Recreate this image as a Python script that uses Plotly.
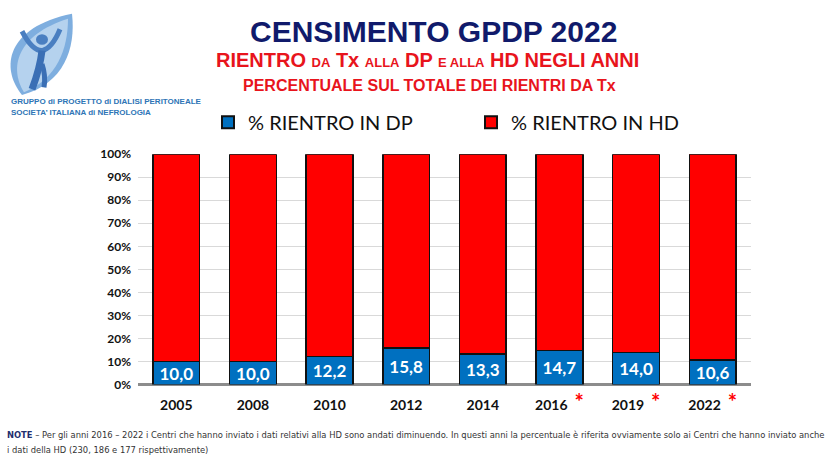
import plotly.graph_objects as go

W, H = 832, 468

years = ["2005", "2008", "2010", "2012", "2014", "2016", "2019", "2022"]
starred = [False, False, False, False, False, True, True, True]
dp_pct = [10.0, 10.0, 12.2, 15.8, 13.3, 14.7, 14.0, 10.6]
hd_pct = [90.0, 90.0, 87.8, 84.2, 86.7, 85.3, 86.0, 89.4]
y_ticks = [0, 10, 20, 30, 40, 50, 60, 70, 80, 90, 100]

tick_text = [y + ("  <span style='color:#ff0000;font-size:22px'>*</span>" if s else "") for y, s in zip(years, starred)]
y_tick_text = [f"{v}%" for v in y_ticks]


def px(x):
    return x / W


def py(y):
    return 1 - y / H


fig = go.Figure()
fig.add_trace(go.Bar(
    x=years, y=dp_pct, name="% RIENTRO IN DP",
    marker=dict(color="#0070c0", line=dict(color="#111111", width=1.5)),
    texttemplate="%{y:.1f}", textposition="inside", insidetextanchor="middle",
    constraintext="none",
    textfont=dict(family="Lato, Open Sans, sans-serif", size=17, color="white", weight="bold"),
))
fig.add_trace(go.Bar(
    x=years, y=hd_pct, name="% RIENTRO IN HD",
    marker=dict(color="#ff0000", line=dict(color="#111111", width=1.5)),
    hoverinfo="y",
))

fig.update_layout(
    width=W, height=H, barmode="stack", bargap=0.39,
    separators=",.",
    paper_bgcolor="white", plot_bgcolor="white",
    margin=dict(l=0, r=0, t=0, b=0),
    font=dict(family="Lato, Open Sans, sans-serif", color="#111111"),
    xaxis=dict(domain=[px(138), px(751)], tickmode="array", tickvals=years, ticktext=tick_text,
               tickfont=dict(size=14, weight="bold"), showline=False, ticks="", ticklabelstandoff=10),
    yaxis=dict(domain=[py(389), py(151)], range=[0, 100], tickmode="array", tickvals=y_ticks,
               ticktext=y_tick_text,
               tickfont=dict(size=12, weight="bold"), showgrid=True, gridcolor="#d9d9d9",
               gridwidth=1, zeroline=True, zerolinecolor="#8c8c8c", zerolinewidth=2.5,
               ticklabelstandoff=6),
    legend=dict(orientation="h", x=px(208), y=py(98), xanchor="left", yanchor="top",
                font=dict(size=20, family="Lato, Open Sans, sans-serif"),
                entrywidth=218, entrywidthmode="pixels", itemsizing="constant",
                traceorder="normal", bgcolor="rgba(0,0,0,0)"),
    showlegend=True,
)

# Titles
fig.add_annotation(x=px(433), y=py(24), xref="paper", yref="paper", showarrow=False,
                   xanchor="center", yanchor="middle",
                   text="<b>CENSIMENTO GPDP 2022</b>",
                   font=dict(family="Liberation Sans, Arial, sans-serif", size=30, color="#101a6b"))
sm = "<span style='font-size:13px'>"
fig.add_annotation(x=px(428), y=py(54), xref="paper", yref="paper", showarrow=False,
                   xanchor="center", yanchor="middle",
                   text=f"<b>RIENTRO {sm}DA</span> Tx {sm}ALLA</span> DP {sm}E ALLA</span> HD NEGLI ANNI</b>",
                   font=dict(family="Liberation Sans, Arial, sans-serif", size=20, color="#e8141c"))
fig.add_annotation(x=px(429), y=py(80), xref="paper", yref="paper", showarrow=False,
                   xanchor="center", yanchor="middle",
                   text="<b>PERCENTUALE SUL TOTALE DEI RIENTRI DA Tx</b>",
                   font=dict(family="Liberation Sans, Arial, sans-serif", size=16, color="#e8141c"))

# Logo caption
fig.add_annotation(x=px(9), y=py(97), xref="paper", yref="paper", showarrow=False, xanchor="left",
                   yanchor="middle",
                   text="<b>GRUPPO di PROGETTO di DIALISI PERITONEALE</b>",
                   font=dict(family="Liberation Sans Narrow, Liberation Sans, sans-serif", size=8, color="#2e75b6"))
fig.add_annotation(x=px(9), y=py(108), xref="paper", yref="paper", showarrow=False, xanchor="left",
                   yanchor="middle",
                   text="<b>SOCIETA’ ITALIANA di NEFROLOGIA</b>",
                   font=dict(family="Liberation Sans Narrow, Liberation Sans, sans-serif", size=8, color="#2e75b6"))


# Logo shapes (decorative)
def path(points, close=True):
    s = ""
    for cmd, *pts in points:
        s += cmd + " " + " ".join(f"{px(a):.5f},{py(b):.5f}" for a, b in zip(pts[0::2], pts[1::2])) + " "
    return s + ("Z" if close else "")


leaf = path([("M", 22, 90), ("C", 0, 62, 6, 20, 72, 6), ("C", 76, 42, 64, 78, 22, 90)])
fig.add_shape(type="path", path=leaf, xref="paper", yref="paper", fillcolor="#7eaedf",
              line=dict(width=0), layer="below")
leaf2 = path([("M", 24, 87), ("C", 9, 62, 16, 28, 68, 11), ("C", 68, 42, 57, 73, 24, 87)])
fig.add_shape(type="path", path=leaf2, xref="paper", yref="paper", fillcolor="#b5d2ee",
              line=dict(width=0), layer="below")
fig.add_shape(type="circle", xref="paper", yref="paper", x0=px(36), x1=px(48), y0=py(38), y1=py(27),
              fillcolor="#4a7fc1", line=dict(width=0))
arms = path([("M", 22, 24), ("Q", 32, 44, 42, 44), ("Q", 52, 42, 60, 22)], close=False)
fig.add_shape(type="path", path=arms, xref="paper", yref="paper", line=dict(color="#4a7fc1", width=5))
body = path([("M", 42, 44), ("Q", 40, 62, 32, 84)], close=False)
fig.add_shape(type="path", path=body, xref="paper", yref="paper", line=dict(color="#3a6fb5", width=7))
leg = path([("M", 42, 58), ("Q", 46, 70, 44, 82)], close=False)
fig.add_shape(type="path", path=leg, xref="paper", yref="paper", line=dict(color="#3a6fb5", width=5))

# Note
fig.add_annotation(x=px(5), y=py(441), xref="paper", yref="paper", showarrow=False, xanchor="left",
                   yanchor="middle",
                   text="<b><span style='color:#1f2f6e'>NOTE</span></b> – Per gli anni 2016 – 2022 i Centri che hanno inviato i dati relativi alla HD sono andati diminuendo. In questi anni la percentuale è riferita ovviamente solo ai Centri che hanno inviato anche",
                   font=dict(family="Liberation Sans Narrow, DejaVu Sans Condensed, sans-serif", size=9.3, color="#333333"))
fig.add_annotation(x=px(5), y=py(456), xref="paper", yref="paper", showarrow=False, xanchor="left",
                   yanchor="middle",
                   text="i dati della HD (230, 186 e 177 rispettivamente)",
                   font=dict(family="Liberation Sans Narrow, DejaVu Sans Condensed, sans-serif", size=9.3, color="#333333"))

fig.write_html("out.html")
